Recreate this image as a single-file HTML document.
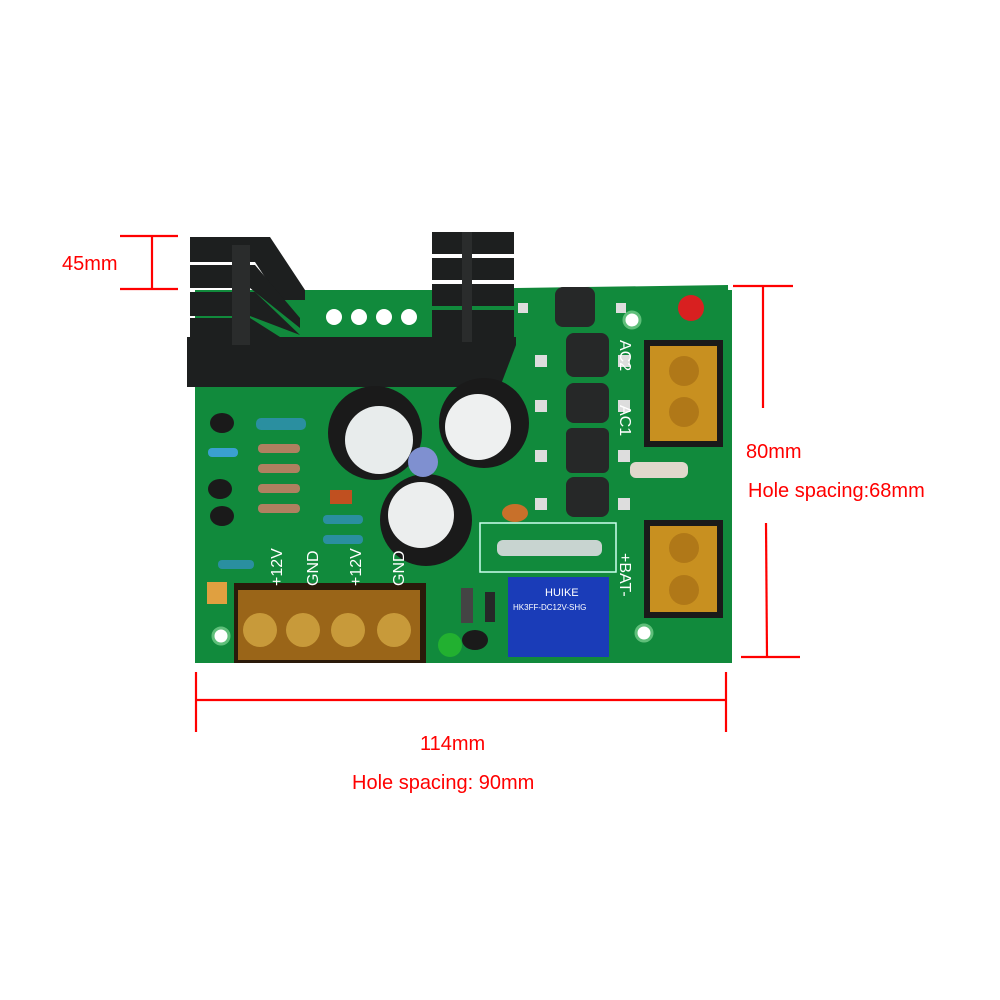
<!DOCTYPE html>
<html><head><meta charset="utf-8"><style>
html,body{margin:0;padding:0;background:#fff;}
svg{display:block;}
text{font-family:"Liberation Sans",sans-serif;}
</style></head><body>
<svg width="1000" height="1000" viewBox="0 0 1000 1000" xmlns="http://www.w3.org/2000/svg">
<rect width="1000" height="1000" fill="#fff"/>
<!-- PCB -->
<polygon points="195,292 300,290 432,290 516,288 728,285 732,663 195,663" fill="#11883a"/>
<rect x="195" y="290" width="537" height="373" fill="#118a3c"/>
<!-- mounting holes -->
<g fill="#fff" stroke="#5fbf7a" stroke-width="3">
<circle cx="221" cy="636" r="8"/><circle cx="644" cy="633" r="8"/><circle cx="632" cy="320" r="8"/>
</g>
<g fill="#fff"><circle cx="334" cy="317" r="8"/><circle cx="359" cy="317" r="8"/><circle cx="384" cy="317" r="8"/><circle cx="409" cy="317" r="8"/></g>
<!-- heatsinks -->
<g fill="#1d1f1f">
<polygon points="190,237 270,237 305,290 305,300 280,300 255,262 190,262"/>
<polygon points="190,265 255,265 300,318 300,328 250,288 190,288"/>
<polygon points="190,292 255,292 300,335 250,316 190,316"/>
<polygon points="190,318 250,318 280,337 190,337"/>
<rect x="432" y="232" width="82" height="22"/>
<rect x="432" y="258" width="82" height="22"/>
<rect x="432" y="284" width="82" height="22"/>
<rect x="432" y="310" width="82" height="30"/>
<polygon points="187,337 516,337 516,345 500,387 187,387"/>
</g>
<rect x="232" y="245" width="18" height="100" fill="#2a2c2c"/>
<rect x="462" y="232" width="10" height="110" fill="#2a2c2c"/>
<!-- capacitors -->
<g>
<circle cx="375" cy="433" r="47" fill="#1a1a1a"/><circle cx="379" cy="440" r="34" fill="#e8ecec"/>
<circle cx="484" cy="423" r="45" fill="#1a1a1a"/><circle cx="478" cy="427" r="33" fill="#eef0f0"/>
<circle cx="426" cy="520" r="46" fill="#1a1a1a"/><circle cx="421" cy="515" r="33" fill="#eceeee"/>
<circle cx="423" cy="462" r="15" fill="#7f90d0"/>
</g>
<!-- transistors / resistors left -->
<g fill="#1a1a1a"><ellipse cx="222" cy="423" rx="12" ry="10"/><ellipse cx="220" cy="489" rx="12" ry="10"/><ellipse cx="222" cy="516" rx="12" ry="10"/><ellipse cx="475" cy="640" rx="13" ry="10"/></g>
<g fill="#2a8fa0">
<rect x="256" y="418" width="50" height="12" rx="5"/>
<rect x="208" y="448" width="30" height="9" rx="4" fill="#3aa0d0"/>
<rect x="258" y="444" width="42" height="9" rx="4" fill="#b08060"/>
<rect x="258" y="464" width="42" height="9" rx="4" fill="#b08060"/>
<rect x="258" y="484" width="42" height="9" rx="4" fill="#b08060"/>
<rect x="258" y="504" width="42" height="9" rx="4" fill="#b08060"/>
<rect x="323" y="515" width="40" height="9" rx="4"/>
<rect x="323" y="535" width="40" height="9" rx="4"/>
<rect x="218" y="560" width="36" height="9" rx="4"/>
</g>
<rect x="330" y="490" width="22" height="14" fill="#c05020"/>
<rect x="207" y="582" width="20" height="22" fill="#e0a040"/>
<!-- diodes -->
<g fill="#262828">
<rect x="555" y="287" width="40" height="40" rx="8"/>
<rect x="566" y="333" width="43" height="44" rx="8"/>
<rect x="566" y="383" width="43" height="40" rx="8"/>
<rect x="566" y="428" width="43" height="45" rx="6"/>
<rect x="566" y="477" width="43" height="40" rx="8"/>
<rect x="461" y="588" width="12" height="35" fill="#444"/>
<rect x="485" y="592" width="10" height="30"/>
</g>
<g fill="#ddd"><rect x="518" y="303" width="10" height="10"/><rect x="616" y="303" width="10" height="10"/>
<rect x="535" y="355" width="12" height="12"/><rect x="618" y="355" width="12" height="12"/>
<rect x="535" y="400" width="12" height="12"/><rect x="618" y="400" width="12" height="12"/>
<rect x="535" y="450" width="12" height="12"/><rect x="618" y="450" width="12" height="12"/>
<rect x="535" y="498" width="12" height="12"/><rect x="618" y="498" width="12" height="12"/></g>
<rect x="630" y="462" width="58" height="16" rx="6" fill="#e0d8cc"/>
<ellipse cx="515" cy="513" rx="13" ry="9" fill="#c8702a"/>
<!-- LEDs -->
<circle cx="691" cy="308" r="13" fill="#d82020"/>
<circle cx="450" cy="645" r="12" fill="#22b030"/>
<!-- fuse -->
<rect x="480" y="523" width="136" height="49" fill="none" stroke="#cfe" stroke-width="1.5"/>
<rect x="497" y="540" width="105" height="16" rx="6" fill="#c8d4d0"/>
<!-- relay -->
<rect x="508" y="577" width="101" height="80" fill="#1a3cb8"/>
<text x="545" y="596" font-size="11" fill="#fff">HUIKE</text>
<text x="513" y="610" font-size="8" fill="#fff">HK3FF-DC12V-SHG</text>
<!-- terminal blocks -->
<rect x="644" y="340" width="79" height="107" fill="#1a1a1a"/>
<rect x="650" y="346" width="67" height="95" fill="#c89020"/>
<circle cx="684" cy="371" r="15" fill="#b07818"/><circle cx="684" cy="412" r="15" fill="#b07818"/>
<rect x="644" y="520" width="79" height="98" fill="#1a1a1a"/>
<rect x="650" y="526" width="67" height="86" fill="#c89020"/>
<circle cx="684" cy="548" r="15" fill="#b07818"/><circle cx="684" cy="590" r="15" fill="#b07818"/>
<rect x="234" y="583" width="192" height="80" fill="#2a1a0a"/>
<rect x="238" y="590" width="182" height="70" fill="#9a6518"/>
<g fill="#c89a3a"><circle cx="260" cy="630" r="17"/><circle cx="303" cy="630" r="17"/><circle cx="348" cy="630" r="17"/><circle cx="394" cy="630" r="17"/></g>
<!-- silkscreen labels -->
<g fill="#fff" font-size="16">
<text transform="translate(282,586) rotate(-90)">+12V</text>
<text transform="translate(318,586) rotate(-90)">GND</text>
<text transform="translate(361,586) rotate(-90)">+12V</text>
<text transform="translate(404,586) rotate(-90)">GND</text>
<text transform="translate(620,340) rotate(90)">AC2</text>
<text transform="translate(620,405) rotate(90)">AC1</text>
<text transform="translate(620,553) rotate(90)">+BAT-</text>
</g>
<!-- dimension lines -->
<g stroke="#f00" stroke-width="2.2" fill="none">
<line x1="120" y1="236" x2="178" y2="236"/><line x1="120" y1="289" x2="178" y2="289"/><line x1="152" y1="236" x2="152" y2="289"/>
<line x1="733" y1="286" x2="793" y2="286"/><line x1="763" y1="286" x2="763" y2="408"/>
<line x1="766" y1="523" x2="767" y2="657"/><line x1="741" y1="657" x2="800" y2="657"/>
<line x1="196" y1="672" x2="196" y2="732"/><line x1="726" y1="672" x2="726" y2="732"/><line x1="196" y1="700" x2="726" y2="700"/>
</g>
<g fill="#f00" font-size="20">
<text x="62" y="270">45mm</text>
<text x="746" y="458">80mm</text>
<text x="748" y="497">Hole spacing:68mm</text>
<text x="420" y="750">114mm</text>
<text x="352" y="789">Hole spacing: 90mm</text>
</g>
</svg>
</body></html>
